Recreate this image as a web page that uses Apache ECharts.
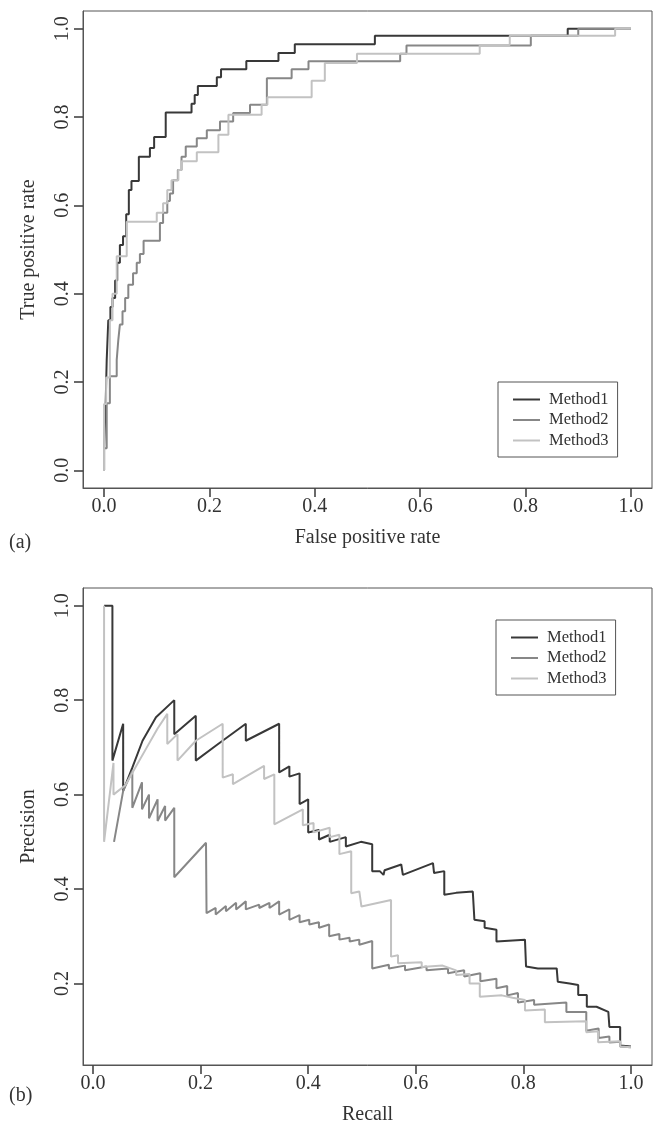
<!DOCTYPE html>
<html>
<head>
<meta charset="utf-8">
<script src="https://cdn.jsdelivr.net/npm/echarts@6/dist/echarts.min.js"></script>
<style>
  html, body { margin: 0; padding: 0; background: #fff; }
  #chart { width: 657px; height: 1126px; }
</style>
</head>
<body>
<div id="chart"></div>
<script>
const names = ['Method1', 'Method2', 'Method3']
const colors = ['#383838', '#878787', '#c2c2c2']

// (a) ROC: [false positive rate, true positive rate]
const roc1 = [[0,0],[0,0.05],[0.003,0.05],[0.003,0.15],[0.005,0.15],[0.005,0.25],[0.008,0.25],[0.008,0.34],[0.012,0.34],[0.012,0.37],[0.016,0.37],[0.016,0.39],[0.021,0.39],[0.021,0.43],[0.025,0.43],[0.025,0.47],[0.03,0.47],[0.03,0.51],[0.036,0.51],[0.036,0.53],[0.042,0.53],[0.042,0.58],[0.047,0.58],[0.047,0.635],[0.052,0.635],[0.052,0.655],[0.066,0.655],[0.066,0.71],[0.087,0.71],[0.087,0.73],[0.095,0.73],[0.095,0.755],[0.117,0.755],[0.117,0.81],[0.166,0.81],[0.166,0.83],[0.172,0.83],[0.172,0.85],[0.178,0.85],[0.178,0.87],[0.214,0.87],[0.214,0.89],[0.222,0.89],[0.222,0.908],[0.27,0.908],[0.27,0.927],[0.331,0.927],[0.331,0.945],[0.362,0.945],[0.362,0.965],[0.514,0.965],[0.514,0.984],[0.88,0.984],[0.88,1],[1,1]]
const roc2 = [[0,0],[0,0.05],[0.005,0.05],[0.005,0.152],[0.011,0.152],[0.011,0.213],[0.024,0.213],[0.024,0.25],[0.027,0.25],[0.027,0.295],[0.03,0.295],[0.03,0.33],[0.035,0.33],[0.035,0.36],[0.04,0.36],[0.04,0.39],[0.046,0.39],[0.046,0.42],[0.055,0.42],[0.055,0.446],[0.062,0.446],[0.062,0.47],[0.068,0.47],[0.068,0.49],[0.075,0.49],[0.075,0.52],[0.106,0.52],[0.106,0.56],[0.112,0.56],[0.112,0.583],[0.12,0.583],[0.12,0.61],[0.125,0.61],[0.125,0.627],[0.131,0.627],[0.131,0.657],[0.14,0.657],[0.14,0.68],[0.147,0.68],[0.147,0.71],[0.155,0.71],[0.155,0.733],[0.176,0.733],[0.176,0.752],[0.195,0.752],[0.195,0.77],[0.22,0.77],[0.22,0.79],[0.245,0.79],[0.245,0.809],[0.277,0.809],[0.277,0.828],[0.309,0.828],[0.309,0.888],[0.356,0.888],[0.356,0.908],[0.388,0.908],[0.388,0.926],[0.562,0.926],[0.562,0.943],[0.574,0.943],[0.574,0.962],[0.81,0.962],[0.81,0.984],[0.9,0.984],[0.9,1],[1,1]]
const roc3 = [[0,0],[0,0.15],[0.004,0.15],[0.004,0.21],[0.011,0.21],[0.011,0.34],[0.016,0.34],[0.016,0.4],[0.024,0.4],[0.024,0.485],[0.043,0.485],[0.043,0.563],[0.1,0.563],[0.1,0.583],[0.112,0.583],[0.112,0.605],[0.12,0.605],[0.12,0.635],[0.128,0.635],[0.128,0.657],[0.141,0.657],[0.141,0.68],[0.147,0.68],[0.147,0.7],[0.176,0.7],[0.176,0.72],[0.217,0.72],[0.217,0.76],[0.236,0.76],[0.236,0.805],[0.299,0.805],[0.299,0.828],[0.31,0.828],[0.31,0.845],[0.394,0.845],[0.394,0.882],[0.419,0.882],[0.419,0.922],[0.48,0.922],[0.48,0.943],[0.713,0.943],[0.713,0.963],[0.77,0.963],[0.77,0.984],[0.97,0.984],[0.97,1],[1,1]]

// (b) precision-recall: [recall, precision]
const pr1 = [[0.0205,1],[0.036,1],[0.036,0.672],[0.056,0.75],[0.056,0.608],[0.073,0.657],[0.092,0.714],[0.117,0.764],[0.151,0.8],[0.151,0.728],[0.191,0.767],[0.191,0.672],[0.23,0.705],[0.284,0.75],[0.284,0.714],[0.346,0.75],[0.346,0.647],[0.365,0.66],[0.365,0.638],[0.384,0.645],[0.384,0.58],[0.4,0.59],[0.4,0.52],[0.42,0.525],[0.42,0.505],[0.44,0.515],[0.44,0.5],[0.47,0.51],[0.47,0.49],[0.498,0.5],[0.519,0.495],[0.519,0.438],[0.533,0.438],[0.54,0.43],[0.542,0.44],[0.573,0.452],[0.576,0.43],[0.632,0.455],[0.634,0.434],[0.653,0.438],[0.653,0.388],[0.675,0.392],[0.706,0.395],[0.709,0.335],[0.728,0.332],[0.728,0.318],[0.75,0.314],[0.75,0.289],[0.803,0.293],[0.805,0.236],[0.827,0.232],[0.862,0.232],[0.864,0.204],[0.886,0.2],[0.902,0.197],[0.902,0.176],[0.918,0.176],[0.918,0.151],[0.936,0.151],[0.958,0.14],[0.96,0.108],[0.98,0.108],[0.98,0.069],[1,0.067]]
const pr2 = [[0.039,0.5],[0.056,0.608],[0.073,0.65],[0.073,0.572],[0.091,0.626],[0.091,0.569],[0.104,0.6],[0.104,0.55],[0.12,0.59],[0.12,0.544],[0.134,0.576],[0.134,0.545],[0.151,0.572],[0.151,0.425],[0.21,0.498],[0.211,0.349],[0.228,0.36],[0.228,0.346],[0.247,0.364],[0.247,0.353],[0.266,0.371],[0.266,0.357],[0.284,0.374],[0.284,0.357],[0.309,0.367],[0.309,0.36],[0.328,0.371],[0.328,0.36],[0.346,0.374],[0.346,0.346],[0.365,0.357],[0.365,0.335],[0.384,0.345],[0.384,0.33],[0.402,0.335],[0.402,0.325],[0.42,0.33],[0.42,0.318],[0.439,0.325],[0.439,0.3],[0.458,0.305],[0.458,0.293],[0.477,0.297],[0.477,0.289],[0.495,0.293],[0.495,0.282],[0.519,0.29],[0.519,0.232],[0.55,0.24],[0.55,0.232],[0.58,0.238],[0.58,0.228],[0.62,0.236],[0.62,0.228],[0.66,0.232],[0.66,0.222],[0.69,0.228],[0.69,0.215],[0.72,0.222],[0.72,0.205],[0.75,0.21],[0.75,0.19],[0.77,0.195],[0.77,0.175],[0.79,0.18],[0.79,0.16],[0.82,0.165],[0.82,0.155],[0.88,0.16],[0.88,0.14],[0.917,0.14],[0.917,0.1],[0.94,0.105],[0.94,0.085],[0.96,0.088],[0.96,0.075],[0.98,0.077],[0.98,0.067],[1,0.065]]
const pr3 = [[0.0205,1],[0.0205,0.5],[0.038,0.667],[0.038,0.6],[0.06,0.62],[0.08,0.66],[0.1,0.7],[0.12,0.74],[0.138,0.771],[0.138,0.707],[0.157,0.728],[0.157,0.672],[0.191,0.714],[0.241,0.75],[0.241,0.636],[0.26,0.643],[0.26,0.622],[0.318,0.661],[0.318,0.633],[0.337,0.643],[0.337,0.537],[0.39,0.569],[0.39,0.535],[0.41,0.54],[0.41,0.52],[0.44,0.53],[0.44,0.51],[0.458,0.515],[0.458,0.474],[0.48,0.48],[0.48,0.391],[0.495,0.395],[0.499,0.363],[0.554,0.377],[0.554,0.257],[0.567,0.26],[0.567,0.243],[0.611,0.245],[0.611,0.235],[0.65,0.238],[0.675,0.228],[0.675,0.218],[0.7,0.22],[0.7,0.2],[0.719,0.2],[0.719,0.172],[0.76,0.175],[0.78,0.17],[0.803,0.165],[0.803,0.143],[0.84,0.145],[0.84,0.118],[0.917,0.12],[0.917,0.097],[0.939,0.099],[0.939,0.076],[0.98,0.078],[0.98,0.067],[1,0.065]]

const rocTicks = [0, 0.2, 0.4, 0.6, 0.8, 1.0]
const prYTicks = [0.2, 0.4, 0.6, 0.8, 1.0]

const font = 'Liberation Serif'
const ink = '#333'
const frame = '#555'

// R 风格：数据范围两边各留 4%
const pad = (lo, hi) => [lo - (hi - lo) * 0.04, hi + (hi - lo) * 0.04]
const rocX = pad(0, 1), rocY = pad(0, 1)
const prX = pad(0.0205, 1), prY = pad(0.065, 1)

const axis = (range, ticks, gridIndex, name, vertical) => ({
    type: 'value', gridIndex, min: range[0], max: range[1],
    position: vertical ? 'left' : 'bottom',
    name, nameLocation: 'middle', nameGap: vertical ? 44 : 40,
    nameTextStyle: { fontFamily: font, fontSize: 20, color: ink },
    splitLine: { show: false },
    axisLine: { show: true, onZero: false, lineStyle: { color: frame, width: 1 } },
    axisTick: { show: true, inside: false, length: 9, customValues: ticks, lineStyle: { color: '#444', width: 1.6 } },
    axisLabel: {
        customValues: ticks, formatter: v => v.toFixed(1), margin: vertical ? 10 : 9,
        rotate: vertical ? 90 : 0, fontFamily: font, fontSize: 20, color: ink
    }
})

const legend = (left, top) => ({
    left, top, orient: 'vertical', data: names, icon: 'rect',
    itemWidth: 27, itemHeight: 2, itemGap: 3.5, selectedMode: false,
    borderColor: frame, borderWidth: 1, padding: [9, 9, 8, 15],
    textStyle: { fontFamily: font, fontSize: 16.5, lineHeight: 16, color: ink, padding: [0, 0, 0, 4] }
})

const lines = (sets, idx) => sets.map((data, i) => ({
    name: names[i], type: 'line', xAxisIndex: idx, yAxisIndex: idx,
    data, showSymbol: false, symbol: 'none', clip: true,
    lineStyle: { color: colors[i], width: 2 }, itemStyle: { color: colors[i] }
}))

const chart = echarts.init(document.getElementById('chart'))
chart.setOption({
    animation: false,
    grid: [
        { left: 83, top: 11, width: 569, height: 477, show: true, borderColor: frame, borderWidth: 1 },
        { left: 83, top: 588, width: 569, height: 477, show: true, borderColor: frame, borderWidth: 1 }
    ],
    xAxis: [
        axis(rocX, rocTicks, 0, 'False positive rate', false),
        axis(prX, rocTicks, 1, 'Recall', false)
    ],
    yAxis: [
        axis(rocY, rocTicks, 0, 'True positive rate', true),
        axis(prY, prYTicks, 1, 'Precision', true)
    ],
    legend: [legend(498, 382), legend(496, 620)],
    graphic: [
        { type: 'text', left: 9, top: 533, style: { text: '(a)', font: '20px ' + font, fill: ink } },
        { type: 'text', left: 9, top: 1086, style: { text: '(b)', font: '20px ' + font, fill: ink } }
    ],
    series: [...lines([roc1, roc2, roc3], 0), ...lines([pr1, pr2, pr3], 1)]
})
</script>
</body>
</html>
